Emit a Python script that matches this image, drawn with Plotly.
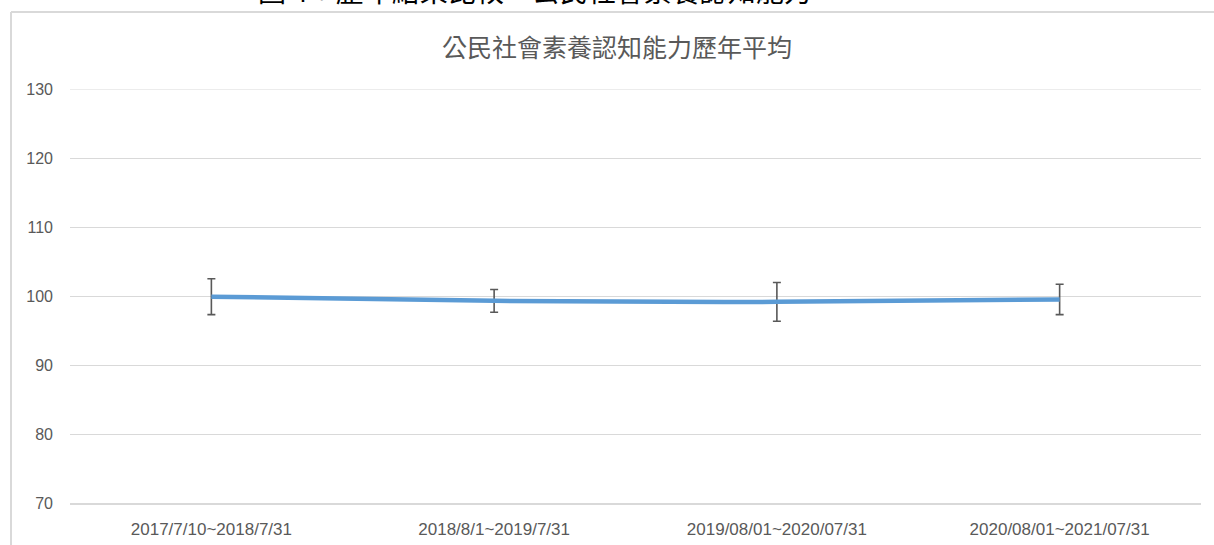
import plotly.graph_objects as go

categories = ["2017/7/10~2018/7/31", "2018/8/1~2019/7/31",
              "2019/08/01~2020/07/31", "2020/08/01~2021/07/31"]
means = [99.9, 99.3, 99.15, 99.5]
errors = [2.6, 1.65, 2.8, 2.2]
y_ticks = [70, 80, 90, 100, 110, 120, 130]

title_text = "公民社會素養認知能力歷年平均"
caption_text = "圖 4：歷年結果比較－公民社會素養認知能力"

W, H = 1214, 545
L, R, T, B = 70, 13, 89, 42
pw, ph = W - L - R, H - T - B

def px_x(p):
    return (p - L) / pw

def px_y(p):
    return (H - B - p) / ph

fig = go.Figure()
fig.add_trace(go.Scatter(
    x=categories, y=means, mode="lines",
    line=dict(color="#5b9bd5", width=4.5, shape="spline"),
    error_y=dict(type="data", array=errors, visible=True,
                 color="#595959", thickness=1.6, width=4),
    showlegend=False, hoverinfo="x+y",
))

fig.update_layout(
    width=W, height=H,
    margin=dict(l=L, r=R, t=T, b=B, pad=0),
    paper_bgcolor="white", plot_bgcolor="white",
    title=dict(text=title_text, x=617 / W, xanchor="center",
               y=1 - 48 / H, yanchor="middle",
               font=dict(family="Noto Sans CJK TC", size=25, color="#595959")),
    xaxis=dict(type="category", range=[-0.5, len(categories) - 0.5],
               showgrid=False, zeroline=False, automargin=False,
               showline=True, linecolor="#d9d9d9", linewidth=1.5, ticks="",
               tickfont=dict(family="Liberation Sans", size=17, color="#595959"),
               ticklabelstandoff=10),
    yaxis=dict(range=[70, 130], tickvals=y_ticks, showgrid=True,
               gridcolor="#d9d9d9", gridwidth=1, zeroline=False,
               showline=False, ticks="", automargin=False,
               tickfont=dict(family="Liberation Sans", size=16, color="#595959"),
               ticklabelstandoff=16),
    shapes=[
        dict(type="line", xref="paper", yref="paper",
             x0=px_x(11), x1=px_x(1216), y0=px_y(12), y1=px_y(12),
             line=dict(color="#d9d9d9", width=2)),
        dict(type="line", xref="paper", yref="paper",
             x0=px_x(11), x1=px_x(11), y0=px_y(12), y1=px_y(548),
             line=dict(color="#d9d9d9", width=2)),
        dict(type="line", xref="paper", yref="y",
             x0=0, x1=1, y0=130, y1=130,
             line=dict(color="#d9d9d9", width=1)),
    ],
    annotations=[
        dict(text=caption_text, xref="paper", yref="paper",
             x=px_x(535), y=px_y(-10), xanchor="center", yanchor="middle",
             showarrow=False,
             font=dict(family="Noto Sans CJK TC", size=28, color="black")),
    ],
)

fig.write_html("out.html",
               config={"displayModeBar": False},
               post_script="document.body.style.margin='0';document.body.style.padding='0';")
